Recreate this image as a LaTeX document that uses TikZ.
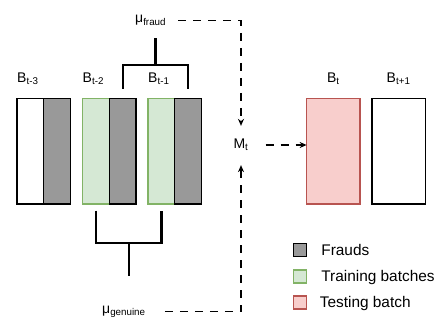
\documentclass[tikz,border=0pt]{standalone}
\usepackage{fontspec}
\setmainfont{Liberation Sans}
\usepackage{tikz}
\usetikzlibrary{arrows.meta,positioning,calc}
\definecolor{fraudgray}{RGB}{153,153,153}
\definecolor{trainfill}{RGB}{213,232,212}
\definecolor{trainline}{RGB}{130,179,102}
\definecolor{testfill}{RGB}{248,206,204}
\definecolor{testline}{RGB}{184,84,80}

\begin{document}
\begin{tikzpicture}[
    x=1pt, y=-1pt,
    half/.style={rectangle, draw=black, fill=white, line width=1.3pt, minimum width=26.75pt, minimum height=105.5pt, inner sep=0pt, outer sep=0pt},
    fraud/.style={half, fill=fraudgray},
    train/.style={half, draw=trainline, fill=trainfill},
    full/.style={half, minimum width=53.3pt},
    test/.style={full, draw=testline, fill=testfill},
    lbl/.style={inner sep=0pt, font=\fontsize{14}{16}\selectfont},
    key/.style={rectangle, line width=1.3pt, minimum size=13pt, inner sep=0pt},
    keytext/.style={inner sep=0pt, text height=11pt, text depth=0pt, font=\fontsize{15.4}{18}\selectfont},
    bracket/.style={line width=2.3pt},
    flow/.style={dash pattern=on 8pt off 7pt, line width=1.3pt, -{Stealth[length=7pt,width=6pt]}}
]
\useasboundingbox (0,0) rectangle (439,320);

% Past batches
\node[half] (w3) at (30.4,151.3) {};
\node[fraud, right=0pt of w3] (f3) {};
\node[train, right=12pt of f3] (g2) {};
\node[fraud, right=0pt of g2] (f2) {};
\node[train, right=12pt of f2] (g1) {};
\node[fraud, right=0pt of g1] (f1) {};

% Current and next batch
\node[test] (bt) at (333.3,151.3) {};
\node[full, right=12pt of bt] (bn) {};

% Batch labels
\node[lbl, anchor=base west] (lw3) at ($(w3.north west)+(0,-16.5)$) {B\textsubscript{t-3}};
\node[lbl, anchor=base west] (lg2) at ($(g2.north west)+(0,-16.5)$) {B\textsubscript{t-2}};
\node[lbl, anchor=base west] (lg1) at ($(g1.north west)+(0,-16.5)$) {B\textsubscript{t-1}};
\node[lbl, anchor=base] (lbt) at ($(bt.north)+(0,-16.5)$) {B\textsubscript{t}};
\node[lbl, anchor=base] (lbn) at ($(bn.north)+(0,-16.5)$) {B\textsubscript{t+1}};

% Means and model
\node[lbl, anchor=base west] (mufraud) at (135,23) {μ\textsubscript{fraud}};
\node[lbl, anchor=base west] (mugen) at (102,313) {μ\textsubscript{genuine}};
\node[lbl] (mt) at (241,145) {M\textsubscript{t}};

% Fraud bracket
\draw[bracket] ($(f2.north)+(0,-9.7)$) -- ++(0,-24) -| ($(f1.north)+(0,-9.7)$);
\coordinate (ftop) at ($(f2.north)!0.5!(f1.north)+(0,-33.7)$);
\draw[bracket] (ftop) -- ++(0,-27);

% Genuine bracket
\draw[bracket] ($(g2.south)+(0,6.7)$) -- ++(0,32) -| ($(g1.south)+(0,6.7)$);
\coordinate (gbot) at ($(g2.south)!0.5!(g1.south)+(0,38.7)$);
\draw[bracket] (gbot) -- ++(0,33);

% Arrows
\draw[flow, shorten <=12pt, shorten >=13pt] (mufraud.east) -| (mt.north);
\draw[flow, shorten <=19pt, shorten >=14pt] (mugen.east) -| (mt.south);
\draw[flow, shorten <=17pt] (mt.east) -- (mt.east -| bt.west);

% Legend
\node[key, draw=black, fill=fraudgray] (kf) at (300,250) {};
\node[keytext, right=14pt of kf] (tf) {Frauds};
\node[key, draw=trainline, fill=trainfill] (kt) at (300,276.5) {};
\node[keytext, right=14pt of kt] (tt) {Training batches};
\node[key, draw=testline, fill=testfill] (ks) at (300,302.5) {};
\node[keytext, right=12.5pt of ks] (ts) {Testing batch};

\end{tikzpicture}
\end{document}
